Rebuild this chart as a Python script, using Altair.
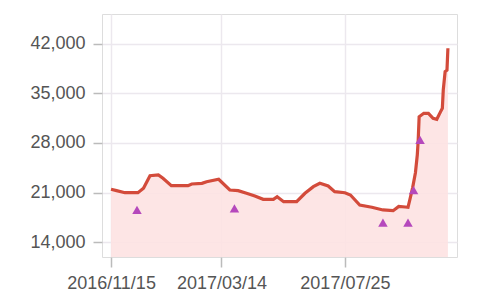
import altair as alt
import pandas as pd

dates = [
    "2016-11-15", "2016-11-21", "2016-11-30", "2016-12-14", "2016-12-20", "2016-12-27",
    "2017-01-05", "2017-01-10", "2017-01-19", "2017-02-06", "2017-02-10", "2017-02-21",
    "2017-02-26", "2017-03-11", "2017-03-23", "2017-04-01", "2017-04-10", "2017-04-19",
    "2017-04-28", "2017-05-09", "2017-05-13", "2017-05-20", "2017-06-03", "2017-06-12",
    "2017-06-21", "2017-06-28", "2017-07-07", "2017-07-14", "2017-07-25", "2017-07-31",
    "2017-08-10", "2017-08-23", "2017-09-04", "2017-09-15", "2017-09-21", "2017-09-28",
    "2017-10-01", "2017-10-03", "2017-10-06", "2017-10-09", "2017-10-11", "2017-10-12",
    "2017-10-13", "2017-10-18", "2017-10-23", "2017-10-28", "2017-11-01", "2017-11-05",
    "2017-11-07", "2017-11-08", "2017-11-10", "2017-11-12", "2017-11-13",
]
values = [
    21450, 21260, 20970, 20970, 21600, 23380,
    23480, 23010, 21960, 21960, 22200, 22300,
    22530, 22870, 21350, 21260, 20890, 20510,
    20040, 20040, 20410, 19700, 19700, 20890,
    21820, 22300, 21920, 21120, 20970, 20650,
    19230, 18910, 18530, 18430, 19040, 18950,
    18900, 20000, 21700, 23800, 26300, 28400,
    31700, 32200, 32200, 31500, 31350, 32400,
    32900, 35500, 38100, 38300, 41400,
]

marker_dates = ["2016-12-13", "2017-03-28", "2017-09-04", "2017-10-01", "2017-10-07", "2017-10-14"]
marker_values = [18530, 18770, 16730, 16730, 21350, 28430]

y_ticks = [14000, 21000, 28000, 35000, 42000]

series = pd.DataFrame({"date": [d + "T00:00:00" for d in dates], "value": values})
markers = pd.DataFrame({"date": [d + "T00:00:00" for d in marker_dates], "value": marker_values})

x_scale = alt.Scale(domain=["2016-11-05T07:00:00", "2017-11-22T19:00:00"])
y_scale = alt.Scale(domain=[11880, 46240], zero=False, nice=False)

x_axis = alt.Axis(
    title=None, format="%Y/%m/%d", grid=True, gridColor="#ECE8EE", gridWidth=1.5,
    values=[alt.DateTime(year=2016, month=11, date=15), alt.DateTime(year=2017, month=3, date=14),
            alt.DateTime(year=2017, month=7, date=25)],
    domain=False, tickColor="#BBBBBB", tickSize=10, tickWidth=1.5, labelPadding=7,
    labelFont="Liberation Sans", labelFontSize=18, labelColor="#555555",
)
y_axis = alt.Axis(
    title=None, format=",.0f", values=y_ticks, grid=True, gridColor="#ECE8EE", gridWidth=1.5,
    domain=False, tickColor="#BBBBBB", tickSize=9, tickWidth=1.5, labelPadding=8,
    labelFont="Liberation Sans", labelFontSize=18, labelColor="#555555",
)

base = alt.Chart(series)
area = base.mark_area(color="#FDE2E2", opacity=0.9, clip=True).encode(
    x=alt.X("date:T", scale=x_scale, axis=x_axis),
    y=alt.Y("value:Q", scale=y_scale, axis=y_axis),
)
line = base.mark_line(color="#D34B3B", strokeWidth=3.2, clip=True).encode(
    x=alt.X("date:T", scale=x_scale),
    y=alt.Y("value:Q", scale=y_scale),
)
pts = alt.Chart(markers).mark_point(
    shape="triangle-up", filled=True, color="#B548BC", size=90, opacity=1
).encode(
    x=alt.X("date:T", scale=x_scale),
    y=alt.Y("value:Q", scale=y_scale),
)

chart = alt.layer(area, line, pts).properties(
    width=355, height=243,
    autosize=alt.AutoSizeParams(type="none"),
    padding={"left": 102, "top": 14, "right": 43, "bottom": 44},
).configure_view(stroke="#A8A8A8", strokeWidth=2).configure(background="white")

chart.save("out.html", embed_options={"renderer": "svg", "actions": False})
